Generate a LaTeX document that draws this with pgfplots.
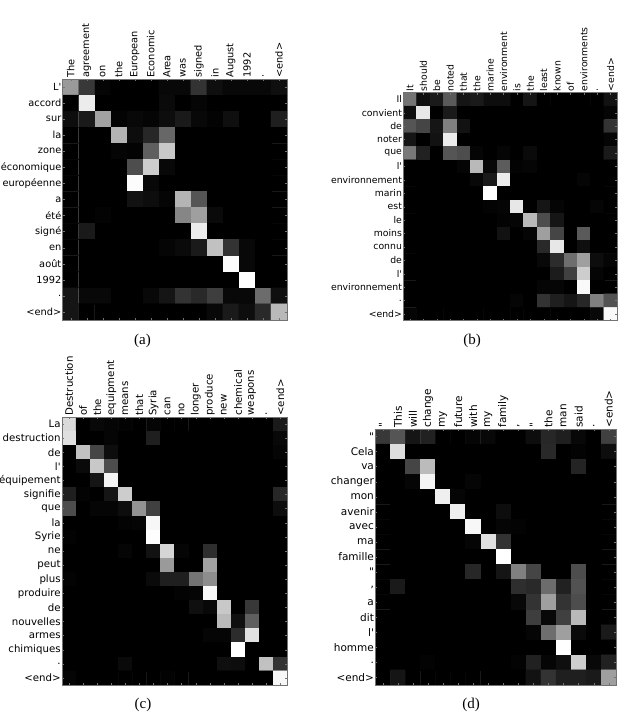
\documentclass[border=0pt]{standalone}
\usepackage{pgfplots}
\usepackage{fontspec}
\pgfplotsset{compat=1.18}
\setmainfont{Liberation Serif}
\newfontfamily\lab{DejaVu Sans}
\pgfplotsset{
  hm/.style={
    scale only axis, anchor=south west,
    y dir=reverse, enlargelimits=false, axis on top,
    colormap={bw}{gray(0)=(0) gray(1)=(1)},
    point meta min=0, point meta max=1,
    tick align=inside, major tick length=2pt,
    xtick pos=both, ytick pos=both,
    xticklabel pos=top,
    yticklabel pos=left,
    tick style={color=black!55, line width=0.4pt},
    axis line style={color=black!55, line width=0.6pt},
    x tick label style={font=\lab\fontsize{#1}{10}\selectfont, rotate=90, anchor=west, inner sep=1.2pt},
    y tick label style={font=\lab\fontsize{#1}{10}\selectfont, anchor=east, inner sep=1.2pt},
  },
  cells/.style={matrix plot*, mesh/cols=#1, point meta=explicit, draw=none},
  /pgfplots/table/tbl/.style={row sep=crcr, header=false, x expr={mod(\coordindex,#1)}, y expr={floor((\coordindex+0.5)/#1)}, meta index=0},
}
\begin{document}
\begin{tikzpicture}
\path[use as bounding box] (0pt,0pt) rectangle (628pt,716pt);
% (a)
\begin{axis}[hm=9.8, at={(62.7pt,396pt)}, width=224.3pt, height=241pt,
  xmin=-0.5,xmax=13.5,ymin=-0.5,ymax=14.5,
  xtick={0,...,13}, ytick={0,...,14},
  xticklabels={The,agreement,on,the,European,Economic,Area,was,signed,in,August,1992,.,<end>},
  yticklabels={L',accord,sur,la,zone,économique,européenne,a,été,signé,en,août,1992,.,<end>}]
\addplot[cells=14] table[tbl=14] {
.6\\.22\\.02\\0\\0\\0\\.03\\.03\\.2\\.06\\.03\\.03\\.03\\.06\\
0\\.92\\0\\0\\0\\0\\.04\\0\\.02\\0\\0\\0\\0\\0\\
.05\\.1\\.63\\.01\\.03\\.02\\.05\\.1\\.03\\.01\\.06\\0\\0\\.12\\
0\\0\\0\\.7\\.05\\.15\\.4\\0\\0\\0\\0\\0\\0\\0\\
0\\0\\0\\.02\\.01\\.37\\.78\\0\\0\\0\\0\\0\\0\\0\\
0\\0\\0\\0\\.3\\.8\\.03\\0\\0\\0\\0\\0\\0\\0\\
0\\0\\0\\0\\.98\\.03\\0\\0\\0\\0\\0\\0\\0\\0\\
0\\0\\0\\0\\.07\\.05\\.02\\.7\\.33\\0\\0\\0\\0\\0\\
0\\0\\.01\\0\\0\\0\\0\\.52\\.62\\.04\\0\\0\\0\\0\\
0\\.1\\0\\0\\0\\0\\0\\0\\.92\\0\\0\\0\\0\\0\\
0\\0\\0\\0\\0\\0\\.02\\.04\\.1\\.75\\.2\\.03\\0\\0\\
0\\0\\0\\0\\0\\0\\0\\0\\0\\0\\.98\\.03\\0\\0\\
0\\0\\0\\0\\0\\0\\0\\0\\0\\0\\0\\1\\0\\0\\
.08\\.03\\.03\\0\\0\\.03\\.08\\.2\\.16\\.24\\.03\\.03\\.42\\.06\\
.08\\0\\0\\0\\0\\0\\0\\0\\0\\.03\\.1\\.05\\.16\\.72\\
};
\end{axis}
% (b)
\begin{axis}[hm=9.3, at={(403.3pt,395.3pt)}, width=214pt, height=228pt,
  xmin=-0.5,xmax=15.5,ymin=-0.5,ymax=16.5,
  xtick={0,...,15}, ytick={0,...,16},
  xticklabels={It,should,be,noted,that,the,marine,environment,is,the,least,known,of,environments,.,<end>},
  yticklabels={Il,convient,de,noter,que,l',environnement,marin,est,le,moins,connu,de,l',environnement,.,<end>}]
\addplot[cells=16] table[tbl=16] {
.45\\.06\\.1\\.35\\.08\\.1\\.05\\.05\\0\\.08\\0\\0\\0\\0\\0\\.07\\
.05\\.9\\0\\.1\\0\\0\\0\\0\\0\\0\\0\\0\\0\\0\\0\\.02\\
.33\\.27\\.08\\.5\\.07\\0\\0\\0\\0\\0\\0\\0\\0\\0\\0\\.2\\
.08\\0\\.07\\.92\\0\\0\\0\\0\\0\\0\\0\\0\\0\\0\\0\\.02\\
.47\\.13\\0\\.33\\.3\\.02\\0\\.02\\0\\.04\\0\\0\\0\\0\\0\\.1\\
0\\0\\0\\0\\.02\\.72\\.03\\.36\\.01\\.02\\0\\0\\0\\0\\0\\0\\
0\\0\\0\\0\\0\\.03\\.1\\.92\\0\\0\\0\\0\\0\\.02\\0\\0\\
0\\0\\0\\0\\0\\0\\1\\0\\0\\0\\0\\0\\0\\0\\0\\0\\
0\\0\\0\\0\\0\\0\\.01\\.02\\.9\\0\\.08\\.02\\0\\0\\.02\\0\\
0\\0\\0\\0\\0\\0\\0\\.01\\.02\\.72\\.3\\.08\\0\\0\\0\\0\\
0\\0\\0\\0\\0\\0\\0\\.07\\0\\.02\\.62\\.27\\0\\.35\\0\\0\\
0\\0\\0\\0\\0\\0\\0\\0\\0\\0\\.16\\.9\\0\\.06\\0\\0\\
0\\0\\0\\0\\0\\0\\0\\0\\0\\0\\.03\\.17\\.43\\.62\\.05\\.02\\
0\\0\\0\\0\\0\\0\\0\\0\\0\\0\\0\\.11\\.25\\.8\\.02\\0\\
0\\0\\0\\0\\0\\0\\0\\0\\0\\0\\.02\\.02\\0\\.97\\0\\0\\
0\\0\\0\\0\\0\\0\\0\\0\\.02\\0\\.2\\.12\\.08\\.15\\.5\\.32\\
.02\\0\\0\\0\\0\\0\\0\\0\\0\\0\\0\\0\\0\\0\\.03\\.97\\
};
\end{axis}
% (c)
\begin{axis}[hm=10.2, at={(62pt,31pt)}, width=225.3pt, height=268pt,
  xmin=-0.5,xmax=15.5,ymin=-0.5,ymax=18.5,
  xtick={0,...,15}, ytick={0,...,18},
  xticklabels={Destruction,of,the,equipment,means,that,Syria,can,no,longer,produce,new,chemical,weapons,.,<end>},
  yticklabels={La,destruction,de,l',équipement,signifie,que,la,Syrie,ne,peut,plus,produire,de,nouvelles,armes,chimiques,.,<end>}]
\addplot[cells=16] table[tbl=16] {
.85\\0\\.03\\.02\\.01\\0\\.02\\0\\0\\0\\0\\0\\0\\0\\0\\.1\\
.87\\0\\0\\.02\\0\\0\\.12\\0\\0\\0\\0\\0\\0\\0\\0\\.03\\
0\\.75\\.27\\.05\\0\\0\\0\\0\\0\\0\\0\\0\\0\\0\\0\\.02\\
0\\.04\\.78\\.3\\0\\0\\0\\0\\0\\0\\0\\0\\0\\0\\0\\0\\
0\\0\\.08\\.95\\0\\0\\0\\0\\0\\0\\0\\0\\0\\0\\0\\0\\
.12\\.01\\0\\.08\\.8\\0\\0\\0\\0\\0\\0\\0\\0\\0\\0\\.15\\
.3\\0\\.02\\.02\\.05\\.57\\.25\\0\\0\\0\\0\\0\\0\\0\\0\\.05\\
0\\0\\0\\0\\.01\\.02\\.96\\0\\0\\0\\0\\0\\0\\0\\0\\0\\
.01\\0\\0\\0\\0\\0\\.99\\0\\0\\0\\0\\0\\0\\0\\0\\0\\
0\\0\\0\\0\\.02\\0\\.07\\.83\\.02\\0\\.18\\0\\0\\0\\0\\0\\
0\\0\\0\\0\\0\\0\\0\\.6\\0\\0\\.63\\0\\0\\0\\0\\0\\
.01\\0\\0\\0\\0\\0\\.04\\.12\\.12\\.45\\.55\\0\\0\\0\\0\\0\\
0\\0\\0\\0\\0\\0\\0\\0\\.01\\.02\\.97\\0\\0\\0\\0\\0\\
0\\0\\0\\0\\0\\0\\0\\0\\0\\.06\\.03\\.78\\0\\.22\\0\\0\\
0\\0\\0\\0\\0\\0\\0\\0\\0\\0\\0\\.72\\.06\\.37\\0\\0\\
0\\0\\0\\0\\0\\0\\0\\0\\0\\0\\.02\\.02\\.17\\.88\\0\\0\\
0\\0\\0\\0\\0\\0\\0\\0\\0\\0\\0\\0\\1\\0\\0\\0\\
0\\0\\0\\0\\.04\\0\\0\\0\\0\\0\\0\\.06\\.05\\0\\.75\\.2\\
.02\\0\\0\\0\\0\\0\\0\\.01\\0\\0\\0\\0\\0\\0\\0\\.96\\
};
\end{axis}
% (d)
\begin{axis}[hm=10.5, at={(375.3pt,31pt)}, width=241pt, height=256pt,
  xmin=-0.5,xmax=15.5,ymin=-0.5,ymax=16.5,
  xtick={0,...,15}, ytick={0,...,16},
  xticklabels={",This,will,change,my,future,with,my,family,{,},",the,man,said,.,<end>},
  yticklabels={",Cela,va,changer,mon,avenir,avec,ma,famille,",{,},a,dit,l',homme,.,<end>}]
\addplot[cells=16] table[tbl=16] {
.22\\.33\\.08\\.13\\0\\0\\.02\\.03\\0\\0\\.05\\.15\\.12\\.03\\0\\.25\\
0\\.86\\0\\0\\0\\0\\0\\0\\0\\0\\0\\.16\\0\\.01\\0\\.05\\
0\\0\\.27\\.73\\0\\0\\0\\0\\0\\0\\0\\0\\0\\.14\\0\\0\\
0\\0\\.02\\.95\\0\\0\\.02\\0\\0\\0\\0\\0\\0\\0\\0\\0\\
0\\0\\0\\0\\.93\\.02\\0\\0\\0\\0\\0\\0\\0\\0\\0\\0\\
0\\0\\0\\0\\0\\.93\\0\\0\\.05\\0\\0\\0\\0\\0\\0\\0\\
0\\0\\0\\0\\0\\0\\.96\\0\\.02\\.01\\0\\0\\0\\0\\0\\0\\
0\\0\\0\\0\\0\\0\\.02\\.87\\.2\\0\\0\\0\\0\\0\\0\\0\\
0\\0\\0\\0\\0\\0\\0\\0\\1\\0\\0\\0\\0\\0\\0\\0\\
0\\0\\0\\0\\0\\0\\.15\\0\\.08\\.5\\.27\\0\\0\\.3\\0\\0\\
0\\.1\\0\\0\\0\\0\\0\\0\\0\\.18\\.16\\.42\\.13\\.32\\0\\0\\
0\\0\\0\\0\\0\\0\\0\\0\\0\\.03\\.2\\.62\\.2\\.3\\0\\0\\
0\\0\\0\\0\\0\\0\\0\\0\\0\\0\\.24\\.03\\.25\\.72\\0\\0\\
0\\0\\0\\0\\0\\0\\0\\0\\0\\0\\.02\\.43\\.62\\.04\\0\\.1\\
0\\0\\0\\0\\0\\0\\0\\0\\0\\0\\0\\0\\1\\0\\0\\0\\
0\\0\\0\\.01\\0\\0\\0\\0\\0\\.01\\.13\\.02\\.06\\.8\\.03\\.13\\
0\\.08\\0\\0\\0\\0\\0\\0\\0\\0\\.07\\.2\\.12\\.12\\.1\\.62\\
};
\end{axis}
\node[font=\fontsize{15}{17}\selectfont] at (142.5pt,375.5pt) {(a)};
\node[font=\fontsize{15}{17}\selectfont] at (472pt,375.5pt) {(b)};
\node[font=\fontsize{15}{17}\selectfont] at (143pt,11pt) {(c)};
\node[font=\fontsize{15}{17}\selectfont] at (471pt,11pt) {(d)};
\end{tikzpicture}
\end{document}
